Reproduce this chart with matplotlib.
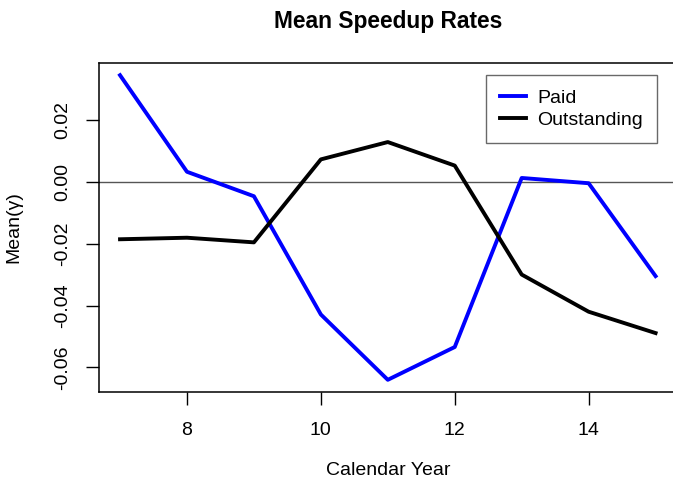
import matplotlib
matplotlib.use("Agg")
import matplotlib.pyplot as plt

plt.rcParams['font.family'] = ['Liberation Sans', 'DejaVu Sans']

years = [7, 8, 9, 10, 11, 12, 13, 14, 15]
paid = [0.0344, 0.0032, -0.0047, -0.0429, -0.0640, -0.0534, 0.0012, -0.0005, -0.0305]
outstanding = [-0.0186, -0.0181, -0.0196, 0.0072, 0.0128, 0.0052, -0.0300, -0.0420, -0.0489]

W, H = 673, 483
fig = plt.figure(figsize=(W / 100, H / 100), dpi=100)
# plot region runs past the right edge of the picture, as in the source
ax = fig.add_axes([98.6 / W, (H - 392) / H, (677 - 98.6) / W, (392 - 63) / H])

ax.axhline(0, color='#555555', lw=1.0, zorder=1)
ax.plot(years, paid, color='blue', lw=2.8, label='Paid', zorder=3)
ax.plot(years, outstanding, color='black', lw=2.8, label='Outstanding', zorder=3)

lo = min(min(paid), min(outstanding))
hi = max(max(paid), max(outstanding))
pad = (hi - lo) * 0.04
ax.set_ylim(lo - pad, hi + pad)
ax.set_xlim(years[0] - 0.32, years[-1] + 0.32)

ax.set_xticks([8, 10, 12, 14])
ax.set_yticks([-0.06, -0.04, -0.02, 0.00, 0.02])
ax.set_yticklabels(['-0.06', '-0.04', '-0.02', '0.00', '0.02'], rotation=90, va='center')
ax.tick_params(direction='out', length=9.5, width=1, labelsize=14, pad=10)
ax.tick_params(axis='x', pad=12)
for s in ax.spines.values():
    s.set_linewidth(1.1)

ax.set_title('Mean Speedup Rates', fontsize=16.4, fontweight='bold', pad=25)
ax.set_xlabel('Calendar Year', fontsize=14, labelpad=17)
ax.set_ylabel('Mean(γ)', fontsize=14, labelpad=23)

leg = ax.legend(loc='upper right', bbox_to_anchor=((657 - 98.6) / (677 - 98.6), (392 - 75) / (392 - 63)),
                fontsize=14, frameon=True, fancybox=False, edgecolor='#444444',
                borderpad=0.72, handlelength=1.3, labelspacing=0.25, handletextpad=0.6,
                borderaxespad=0)
leg.get_frame().set_linewidth(1.0)

fig.savefig('out.png', dpi=100)
